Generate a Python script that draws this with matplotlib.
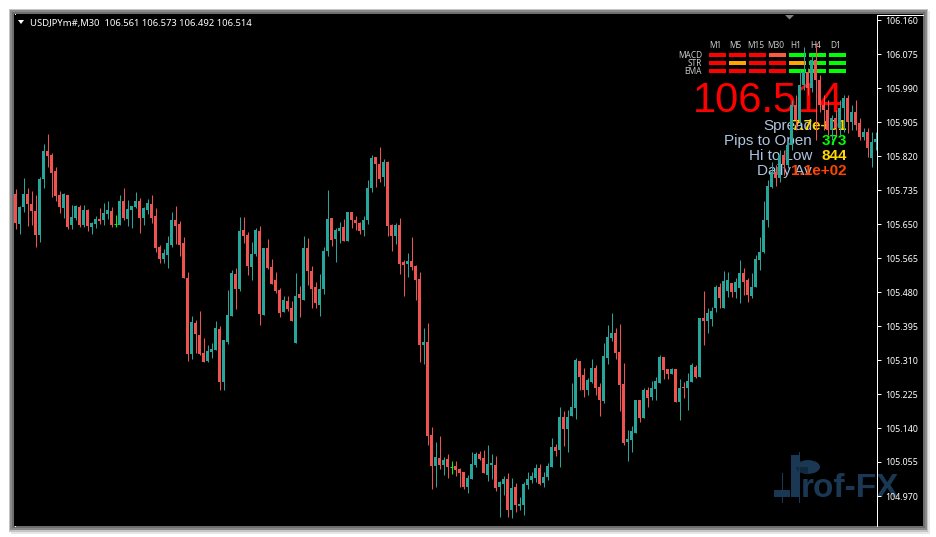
import matplotlib
matplotlib.use("Agg")
import matplotlib.pyplot as plt
from matplotlib.patches import Rectangle, Polygon, Circle, Wedge
from matplotlib.lines import Line2D

W, H = 936, 537

# ---------------- data (USDJPY M30 candles, oldest -> newest) ----------------
opens = [
    105.725, 105.65, 105.6925, 105.725, 105.70, 105.6825, 105.6225, 105.7625, 105.8325, 105.8225,
    105.7825, 105.7225, 105.69, 105.7225, 105.6475, 105.665, 105.6925, 105.6475, 105.685, 105.6425,
    105.65, 105.6625, 105.66, 105.675, 105.6825, 105.65, 105.6475, 105.7075, 105.6625, 105.685,
    105.6925, 105.7075, 105.665, 105.685, 105.70, 105.67, 105.5925, 105.5625, 105.5725, 105.5975,
    105.66, 105.65, 105.6025, 105.515, 105.325, 105.4025, 105.3725, 105.3275, 105.3075, 105.33,
    105.335, 105.3875, 105.255, 105.355, 105.42, 105.525, 105.4875, 105.635, 105.6225, 105.5425,
    105.575, 105.6325, 105.4225, 105.59, 105.5425, 105.51, 105.485, 105.43, 105.4575, 105.44,
    105.3525, 105.475, 105.46, 105.59, 105.5325, 105.4925, 105.4475, 105.4875, 105.5825, 105.665,
    105.6125, 105.6325, 105.6425, 105.6075, 105.68, 105.66, 105.6525, 105.635, 105.66, 105.74,
    105.8175, 105.80, 105.7675, 105.805, 105.6475, 105.62, 105.6475, 105.555, 105.55, 105.5575,
    105.545, 105.5125, 105.3475, 105.355, 105.1225, 105.045, 105.065, 105.0475, 105.0625, 105.0425,
    105.045, 105.0375, 105.03, 104.9925, 105.0125, 105.0475, 105.075, 105.065, 105.0225, 105.0475,
    105.0475, 104.9925, 105.00, 105.0125, 104.935, 104.9925, 104.945, 104.9475, 104.9975, 105.01,
    105.015, 105.04, 105.0025, 105.0175, 105.0425, 105.0925, 105.085, 105.1675, 105.1375, 105.17,
    105.19, 105.3075, 105.2725, 105.235, 105.255, 105.29, 105.2425, 105.2075, 105.315, 105.365,
    105.3775, 105.33, 105.25, 105.105, 105.11, 105.1275, 105.21, 105.165, 105.235, 105.2175,
    105.2375, 105.2525, 105.3175, 105.2875, 105.275, 105.2875, 105.205, 105.2425, 105.24, 105.255,
    105.2925, 105.2675, 105.415, 105.4075, 105.4125, 105.44, 105.4925, 105.44, 105.4825, 105.5025,
    105.48, 105.49, 105.5275, 105.51, 105.47, 105.4925, 105.56, 105.58, 105.66, 105.7425,
    105.78, 105.765, 105.8225, 105.7975, 105.8475, 105.9475, 105.91, 105.9975, 106.03, 105.99,
    106.06, 106.01, 105.9475, 105.935, 105.885, 105.915, 105.89, 105.94, 105.965, 105.905,
    105.93, 105.9025, 105.8675, 105.88, 105.815, 105.855,
]
highs = [
    105.7375, 105.695, 105.765, 105.74, 105.7325, 105.7225, 105.7675, 105.85, 105.875, 105.8275,
    105.7925, 105.7325, 105.7275, 105.7225, 105.6975, 105.6975, 105.6975, 105.6975, 105.6875, 105.655,
    105.67, 105.69, 105.7025, 105.7075, 105.6925, 105.6725, 105.7225, 105.74, 105.71, 105.695,
    105.73, 105.715, 105.6925, 105.7125, 105.7225, 105.69, 105.5975, 105.5875, 105.62, 105.68,
    105.695, 105.6575, 105.6175, 105.53, 105.42, 105.41, 105.4325, 105.365, 105.3475, 105.3525,
    105.4075, 105.395, 105.36, 105.485, 105.535, 105.54, 105.6675, 105.6675, 105.63, 105.605,
    105.64, 105.645, 105.59, 105.6125, 105.5625, 105.53, 105.49, 105.47, 105.47, 105.4575,
    105.5275, 105.495, 105.62, 105.615, 105.545, 105.505, 105.525, 105.5925, 105.735, 105.665,
    105.64, 105.655, 105.6625, 105.68, 105.68, 105.67, 105.655, 105.67, 105.76, 105.8225,
    105.8175, 105.8425, 105.8125, 105.8075, 105.65, 105.6525, 105.665, 105.56, 105.5775, 105.6175,
    105.5475, 105.53, 105.39, 105.4025, 105.1425, 105.105, 105.12, 105.0675, 105.075, 105.0575,
    105.0575, 105.04, 105.03, 105.0225, 105.08, 105.08, 105.0825, 105.085, 105.0975, 105.075,
    105.07, 105.0075, 105.02, 105.0275, 105.015, 105.0025, 104.9675, 105.005, 105.03, 105.03,
    105.05, 105.05, 105.03, 105.0525, 105.115, 105.10, 105.1925, 105.1825, 105.185, 105.2525,
    105.315, 105.3075, 105.29, 105.265, 105.3125, 105.2975, 105.2525, 105.3525, 105.3975, 105.4275,
    105.39, 105.40, 105.3025, 105.135, 105.145, 105.21, 105.21, 105.24, 105.2425, 105.2575,
    105.2675, 105.3225, 105.3175, 105.2875, 105.29, 105.2875, 105.2625, 105.255, 105.2775, 105.3025,
    105.2975, 105.415, 105.4825, 105.44, 105.4425, 105.4975, 105.5025, 105.5325, 105.53, 105.5025,
    105.515, 105.56, 105.54, 105.515, 105.5275, 105.5725, 105.6175, 105.7075, 105.76, 105.805,
    105.7975, 105.835, 105.835, 105.86, 105.96, 105.9725, 106.035, 106.0925, 106.04, 106.0725,
    106.1025, 106.0225, 105.9725, 105.96, 105.9225, 105.935, 105.96, 105.9725, 105.9725, 105.9475,
    105.96, 105.915, 105.89, 105.89, 105.88, 105.88,
]
lows = [
    105.6375, 105.625, 105.68, 105.645, 105.6475, 105.5925, 105.605, 105.74, 105.7925, 105.7175,
    105.7075, 105.6775, 105.665, 105.6375, 105.6375, 105.66, 105.6425, 105.6425, 105.6325, 105.625,
    105.64, 105.65, 105.6475, 105.6625, 105.6425, 105.6425, 105.6475, 105.66, 105.645, 105.64,
    105.69, 105.6275, 105.6475, 105.675, 105.6525, 105.58, 105.5525, 105.5525, 105.54, 105.5925,
    105.60, 105.57, 105.515, 105.3075, 105.3125, 105.3275, 105.3225, 105.305, 105.305, 105.315,
    105.335, 105.235, 105.235, 105.35, 105.42, 105.4375, 105.4825, 105.6025, 105.5225, 105.51,
    105.57, 105.3975, 105.4225, 105.5375, 105.50, 105.4775, 105.4175, 105.43, 105.4325, 105.4075,
    105.3525, 105.4175, 105.46, 105.4975, 105.44, 105.44, 105.42, 105.475, 105.57, 105.595,
    105.555, 105.6025, 105.6075, 105.6075, 105.64, 105.635, 105.625, 105.62, 105.65, 105.73,
    105.7425, 105.755, 105.745, 105.62, 105.5825, 105.60, 105.525, 105.47, 105.5175, 105.535,
    105.46, 105.305, 105.30, 105.0975, 104.9875, 104.9925, 105.0375, 105.0225, 105.015, 105.025,
    105.02, 104.9925, 104.9875, 104.9775, 105.0125, 105.0425, 105.06, 105.0275, 105.0075, 105.0125,
    104.9825, 104.9175, 104.9725, 104.9175, 104.915, 104.93, 104.935, 104.9225, 104.9875, 105.0025,
    105.005, 104.9975, 104.9925, 105.01, 105.0425, 105.07, 105.0425, 105.095, 105.08, 105.17,
    105.1625, 105.235, 105.2175, 105.2225, 105.2525, 105.2225, 105.17, 105.2025, 105.30, 105.3575,
    105.3125, 105.1825, 105.0975, 105.0575, 105.08, 105.1275, 105.155, 105.165, 105.1925, 105.21,
    105.21, 105.2525, 105.2625, 105.2625, 105.275, 105.205, 105.16, 105.215, 105.185, 105.255,
    105.265, 105.2675, 105.3475, 105.3775, 105.395, 105.43, 105.44, 105.44, 105.4675, 105.4675,
    105.465, 105.4525, 105.4725, 105.455, 105.465, 105.4925, 105.535, 105.5775, 105.6425, 105.74,
    105.745, 105.755, 105.7725, 105.79, 105.835, 105.885, 105.8975, 105.985, 105.9725, 105.98,
    105.86, 105.93, 105.885, 105.8725, 105.86, 105.8725, 105.8725, 105.88, 105.8775, 105.885,
    105.885, 105.86, 105.86, 105.8175, 105.7925, 105.835,
]
closes = [
    105.6525, 105.6925, 105.725, 105.70, 105.6825, 105.6225, 105.7625, 105.8325, 105.82, 105.7775,
    105.72, 105.6925, 105.725, 105.6425, 105.6675, 105.695, 105.6475, 105.685, 105.645, 105.6525,
    105.6625, 105.6575, 105.6775, 105.685, 105.6475, 105.65, 105.7075, 105.665, 105.6875, 105.695,
    105.7075, 105.665, 105.69, 105.7025, 105.665, 105.59, 105.5625, 105.5775, 105.6025, 105.66,
    105.645, 105.5975, 105.515, 105.325, 105.405, 105.375, 105.325, 105.305, 105.3325, 105.3375,
    105.39, 105.255, 105.36, 105.4225, 105.5275, 105.4875, 105.6325, 105.62, 105.545, 105.575,
    105.635, 105.425, 105.59, 105.54, 105.50, 105.4825, 105.4275, 105.46, 105.4375, 105.4075,
    105.47, 105.465, 105.59, 105.5325, 105.4875, 105.4525, 105.4875, 105.5825, 105.6625, 105.61,
    105.635, 105.64, 105.6075, 105.68, 105.66, 105.6525, 105.6325, 105.66, 105.74, 105.815,
    105.80, 105.7625, 105.805, 105.645, 105.62, 105.6475, 105.55, 105.5475, 105.5575, 105.5425,
    105.51, 105.3475, 105.355, 105.12, 105.045, 105.0675, 105.0475, 105.06, 105.0425, 105.0425,
    105.035, 105.0275, 104.9925, 105.015, 105.05, 105.075, 105.0625, 105.0275, 105.05, 105.0525,
    104.99, 105.005, 105.0125, 104.935, 104.99, 104.9475, 104.95, 105.00, 105.0125, 105.02,
    105.04, 105.00, 105.0175, 105.045, 105.0925, 105.0825, 105.1675, 105.1375, 105.1675, 105.1925,
    105.31, 105.2675, 105.235, 105.26, 105.29, 105.24, 105.21, 105.32, 105.3675, 105.3775,
    105.3275, 105.2475, 105.1025, 105.1125, 105.1325, 105.21, 105.165, 105.235, 105.215, 105.24,
    105.2575, 105.3175, 105.285, 105.275, 105.2875, 105.205, 105.24, 105.24, 105.2575, 105.2975,
    105.2675, 105.415, 105.4075, 105.4275, 105.4325, 105.4925, 105.465, 105.5075, 105.51, 105.48,
    105.505, 105.5275, 105.505, 105.4725, 105.4925, 105.5625, 105.58, 105.66, 105.745, 105.78,
    105.765, 105.8225, 105.7975, 105.8475, 105.9475, 105.91, 105.9975, 106.03, 105.99, 106.06,
    106.01, 105.9475, 105.935, 105.885, 105.915, 105.89, 105.94, 105.965, 105.905, 105.93,
    105.8975, 105.8675, 105.88, 105.84, 105.855, 105.8625,
]

price_ticks = [104.970, 105.055, 105.140, 105.225, 105.310, 105.395, 105.480, 105.565,
               105.650, 105.735, 105.820, 105.905, 105.990, 106.075, 106.160]
tick_labels = ["104.970", "105.055", "105.140", "105.225", "105.310", "105.395", "105.480",
               "105.565", "105.650", "105.735", "105.820", "105.905", "105.990", "106.075", "106.160"]

header = "USDJPYm#,M30  106.561 106.573 106.492 106.514"
big_price = "106.514"

tf_labels = ["M1", "M5", "M15", "M30", "H1", "H4", "D1"]
row_labels = ["MACD", "STR", "EMA"]
signal_colors = [
    ["#ff0000", "#ff0000", "#ff0000", "#ff5a3c", "#00ff00", "#00ff00", "#00ff00"],
    ["#ff0000", "#ffa500", "#ff0000", "#ff0000", "#ffa500", "#00ff00", "#00ff00"],
    ["#ff0000", "#ff0000", "#ff0000", "#ff0000", "#00ff00", "#00ff00", "#00ff00"],
]
info_labels = ["Spread", "Pips to Open", "Hi to Low", "Daily Av"]
info_values = ["7.7e+01", "373", "844", "1.1e+02"]
info_colors = ["#ffd700", "#00ff00", "#ffd700", "#ff4500"]

UP = "#26a69a"
DOWN = "#ef5350"
DOJI = "#00ff00"
PX = 0.72  # one pixel in points at 100 dpi

# ---------------- figure ----------------
fig = plt.figure(figsize=(W / 100, H / 100), dpi=100)
fig.patch.set_facecolor("white")


def fx(px):
    return px / W


def fy(py):
    return 1 - py / H


def frect(x0, y0, x1, y1, color, z, **kw):
    r = Rectangle((fx(x0), fy(y1)), (x1 - x0) / W, (y1 - y0) / H,
                  transform=fig.transFigure, facecolor=color, edgecolor="none",
                  zorder=z, **kw)
    fig.add_artist(r)
    return r


# window frame + shadow
frect(11, 11, 930, 534, "#e6e6e6", -6)
frect(9, 9, 928, 532, "#c4c4c4", -5)
frect(10, 10, 927, 530, "#8a8a8a", -4)
frect(12, 12, 925, 528, "#6e6e6e", -3)
frect(14, 14, 923, 526, "black", -2)
fig.add_artist(Line2D([fx(14), fx(923)], [fy(14.5), fy(14.5)], transform=fig.transFigure,
                      color="white", lw=PX, zorder=-1))
fig.add_artist(Line2D([fx(14.5), fx(14.5)], [fy(14), fy(526)], transform=fig.transFigure,
                      color="white", lw=PX, zorder=-1))

ax = fig.add_axes([fx(14), fy(526), (877 - 14) / W, (526 - 15) / H])
ax.set_facecolor("black")
ax.set_xlim(-0.375, 215.375)
ax.set_ylim(104.895, 106.1725)
for s in ("top", "left", "bottom"):
    ax.spines[s].set_visible(False)
ax.spines["right"].set_color("white")
ax.spines["right"].set_linewidth(PX)
ax.set_xticks([])
ax.yaxis.tick_right()
ax.set_yticks(price_ticks)
ax.set_yticklabels(tick_labels)
ax.tick_params(axis="y", colors="white", direction="out", length=3, width=PX,
               labelsize=6.4, pad=3)
for lab in ax.get_yticklabels():
    lab.set_fontfamily("Noto Sans")

# ---------------- candles ----------------
for i, (o, h, l, c) in enumerate(zip(opens, highs, lows, closes)):
    if c == o:
        col = DOJI
    elif c > o:
        col = UP
    else:
        col = DOWN
    ax.vlines(i, l, h, colors=col, linewidth=PX, zorder=3)
    bot = min(o, c)
    ht = max(abs(c - o), 0.0025)
    if c == o:
        ax.hlines(o, i - 0.375, i + 0.375, colors=col, linewidth=PX, zorder=3)
    else:
        ax.add_patch(Rectangle((i - 0.375, bot), 0.75, ht, facecolor=col, edgecolor="none",
                               zorder=3))

# ---------------- overlay panel (drawn under the candles) ----------------
TF = fig.transFigure


def ptext(x, y, s, **kw):
    kw.setdefault("zorder", 1)
    return ax.text(fx(x), fy(y), s, transform=TF, clip_on=False, **kw)


# header
ax.add_patch(Polygon([[fx(18), fy(20)], [fx(24), fy(20)], [fx(21), fy(24)]], closed=True,
                     transform=TF, facecolor="white", edgecolor="none", clip_on=False, zorder=2))
ptext(30, 26, header, color="white", fontsize=6.8, family="Noto Sans", va="baseline", ha="left")

# small shift marker at top
ax.add_patch(Polygon([[fx(785), fy(15)], [fx(794), fy(15)], [fx(789.5), fy(19.5)]], closed=True,
                     transform=TF, facecolor="#808080", edgecolor="none", clip_on=False, zorder=2))

# indicator matrix
col_x0 = [709, 729, 749, 769, 789, 809, 829]
for j, lab in enumerate(tf_labels):
    ptext(col_x0[j] + 6.5, 47.5, lab, color="#c8c8c8", fontsize=6, family="Noto Sans",
          ha="center", va="baseline")
row_y = [55, 63, 71]
for r, lab in enumerate(row_labels):
    ptext(702, row_y[r] + 2.6, lab, color="#c8c8c8", fontsize=6, family="Noto Sans",
          ha="right", va="baseline")
    for j in range(len(tf_labels)):
        ax.add_patch(Rectangle((fx(col_x0[j]), fy(row_y[r] + 2.4)), 17 / W, 4.8 / H, transform=TF,
                               facecolor=signal_colors[r][j], edgecolor="none", clip_on=False,
                               zorder=1))

# big price
ptext(844, 112, big_price, color="#ff0000", fontsize=30, family="Liberation Sans",
      ha="right", va="baseline")

# info lines
info_y = [130, 145, 160, 174.5]
for k in range(4):
    ptext(812, info_y[k], info_labels[k], color="#b0c4de", fontsize=11, family="Liberation Sans",
          ha="right", va="baseline")
    ptext(847, info_y[k], info_values[k], color=info_colors[k], fontsize=11,
          family="Liberation Sans", weight="bold", ha="right", va="baseline")

# Prof-FX watermark
LOGO = "#1a3853"
LOGO_D = "#12283d"
ax.add_patch(Rectangle((fx(791), fy(497)), 9 / W, 42 / H, transform=TF, facecolor=LOGO,
                       edgecolor="none", clip_on=False, zorder=1))
ax.add_patch(Circle((fx(808), fy(467)), 12 / W, transform=TF, facecolor=LOGO,
                    edgecolor="none", clip_on=False, zorder=1))
ax.add_patch(Wedge((fx(808), fy(467)), 12 / W, 180, 270, transform=TF, facecolor=LOGO_D,
                   edgecolor="none", clip_on=False, zorder=1))
ax.add_patch(Rectangle((fx(774), fy(497)), 16 / W, 7 / H, transform=TF, facecolor=LOGO,
                       edgecolor="none", clip_on=False, zorder=1))
ax.add_artist(Line2D([fx(782), fx(782)], [fy(473), fy(502)], transform=TF, color=LOGO, lw=PX,
                     zorder=1))
ax.add_artist(Line2D([fx(799), fx(799)], [fy(452), fy(502)], transform=TF, color=LOGO, lw=PX,
                     zorder=1))
ptext(801, 497, "rof-FX", color=LOGO, fontsize=24, family="Liberation Sans", weight="bold",
      ha="left", va="baseline")

fig.savefig("out.png", dpi=100, facecolor="white")
